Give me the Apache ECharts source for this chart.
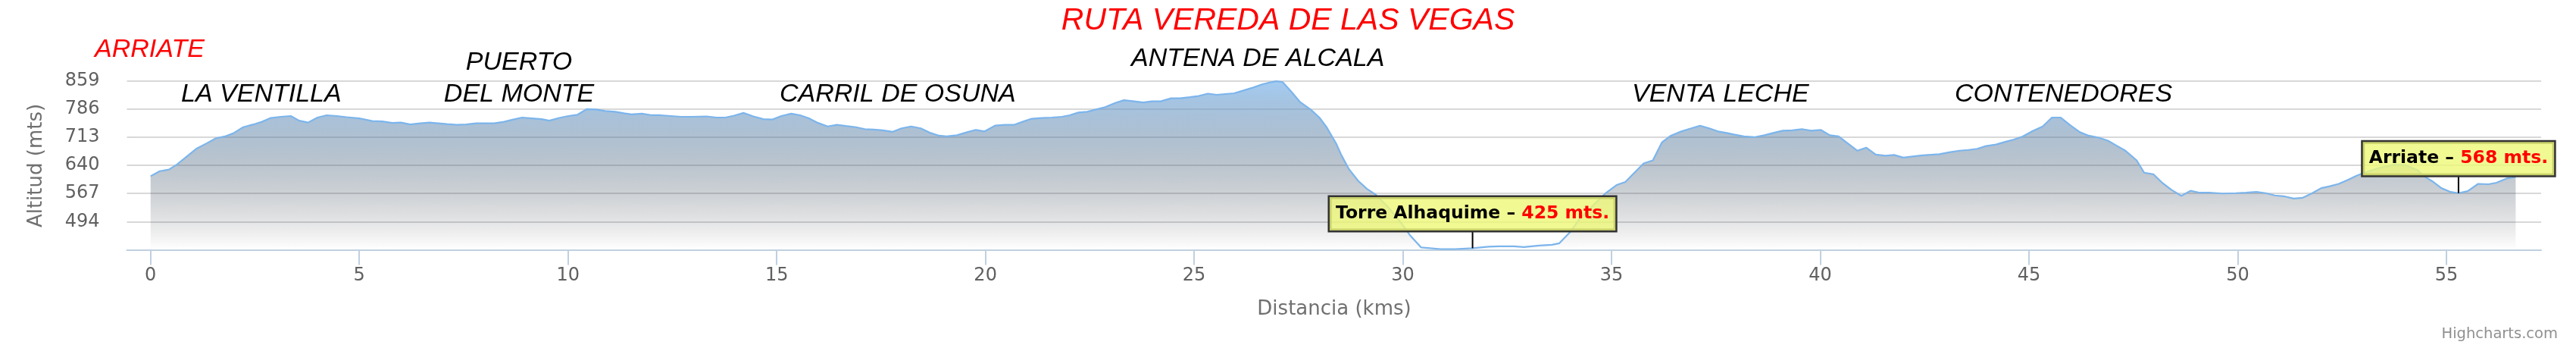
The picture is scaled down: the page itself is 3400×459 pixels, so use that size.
<!DOCTYPE html>
<html><head><meta charset="utf-8">
<script src="https://cdn.jsdelivr.net/npm/echarts@6/dist/echarts.min.js"></script>
<style>html,body{margin:0;padding:0;background:#fff}#c{width:3400px;height:459px}</style>
</head><body><div id="c"></div>
<script>
// ---- data ----
const kms = [0.00,0.22,0.44,0.64,0.88,1.11,1.34,1.56,1.78,1.98,2.22,2.46,2.67,2.88,3.12,3.36,3.56,3.77,4.00,4.22,4.46,4.70,5.00,5.31,5.55,5.79,6.00,6.22,6.46,6.68,6.89,7.10,7.34,7.56,7.80,8.04,8.23,8.47,8.65,8.90,9.14,9.37,9.55,9.79,10.01,10.22,10.45,10.67,10.89,11.13,11.34,11.52,11.77,12.01,12.22,12.47,12.71,12.95,13.32,13.56,13.77,13.98,14.21,14.44,14.68,14.90,15.11,15.35,15.56,15.77,15.99,16.22,16.44,16.66,16.90,17.11,17.32,17.54,17.78,17.99,18.22,18.45,18.66,18.89,19.07,19.32,19.56,19.77,19.98,20.23,20.47,20.68,20.89,21.11,21.35,21.59,21.83,22.02,22.23,22.44,22.65,22.87,23.11,23.32,23.56,23.78,23.99,24.20,24.45,24.66,24.90,25.11,25.33,25.54,25.75,25.96,26.18,26.42,26.63,26.81,26.97,27.12,27.33,27.54,27.79,28.00,28.18,28.41,28.53,28.71,28.93,29.14,29.35,29.62,29.93,30.17,30.44,30.90,31.26,31.67,32.05,32.30,32.66,32.90,33.27,33.57,33.75,34.00,34.24,34.48,34.85,35.12,35.33,35.54,35.77,35.99,36.21,36.42,36.67,36.88,37.12,37.34,37.55,37.76,37.93,38.17,38.42,38.66,38.87,39.10,39.33,39.56,39.78,40.01,40.23,40.44,40.66,40.89,41.10,41.33,41.56,41.77,41.99,42.21,42.45,42.85,43.09,43.33,43.55,43.76,43.97,44.21,44.43,44.64,44.85,45.09,45.33,45.55,45.76,46.00,46.22,46.43,46.67,46.89,47.10,47.31,47.45,47.58,47.76,47.98,48.20,48.42,48.65,48.87,49.09,49.32,49.64,49.95,50.20,50.45,50.67,50.89,51.10,51.34,51.56,51.77,52.00,52.21,52.42,52.63,52.85,53.01,53.38,53.76,54.01,54.32,54.45,54.66,54.88,55.10,55.29,55.51,55.76,56.01,56.20,56.44,56.66];
const alts = [612,625,629,643,664,684,697,710,715,723,739,746,753,763,766,768,756,751,764,770,768,765,762,755,754,750,751,746,749,751,749,747,745,746,749,749,749,753,758,764,762,760,756,763,768,771,786,785,781,779,775,772,774,770,770,768,766,766,767,764,764,769,776,767,760,759,768,774,770,762,750,741,745,742,739,734,733,731,727,736,741,736,725,717,715,718,726,732,728,743,745,745,753,761,763,764,766,770,777,779,785,791,802,809,806,803,806,806,814,814,817,820,826,823,825,827,834,842,850,855,858,856,831,804,785,764,738,695,666,630,600,579,564,535,495,459,427,423,423,425,429,430,430,428,432,434,438,466,502,528,567,589,597,620,645,653,700,717,728,735,743,736,728,724,720,715,713,718,724,730,731,734,730,732,718,715,697,678,686,668,665,667,660,663,666,669,674,678,680,683,690,694,701,707,715,729,741,764,764,743,726,717,712,704,691,678,665,653,621,617,594,576,561,574,569,569,567,568,569,571,568,562,560,554,556,567,581,586,592,602,613,620,633,642,641,627,613,599,581,571,568,573,592,591,595,606,610];
const yTicks = [494, 567, 640, 713, 786, 859];
const xTicks = [0, 5, 10, 15, 20, 25, 30, 35, 40, 45, 50, 55];
const calloutNames = ['Torre Alhaquime', 'Arriate'];
const calloutKms = [31.67, 55.29];
const calloutAlts = [425, 568];
const chartTitle = 'RUTA VEREDA DE LAS VEGAS';
const startName = 'ARRIATE';
const placeNames = ['LA VENTILLA', 'PUERTO', 'DEL MONTE', 'CARRIL DE OSUNA', 'ANTENA DE ALCALA', 'VENTA LECHE', 'CONTENEDORES'];
const xTitle = 'Distancia (kms)';
const yTitle = 'Altitud (mts)';
const credits = 'Highcharts.com';

// ---- chart ----
const HC = '"DejaVu Sans", Verdana, sans-serif';
const AR = '"Liberation Sans", Arial, sans-serif';
function label(text, x, y, color, size, align) {
  return { type: 'text', x: x, y: y, z: 100,
    style: { text: text, fill: color, fontFamily: AR, fontStyle: 'italic', fontSize: size,
      align: align || 'left', verticalAlign: 'middle' } };
}
const chart = echarts.init(document.getElementById('c'), null, { renderer: 'canvas' });
chart.setOption({
  animation: false,
  backgroundColor: '#ffffff',
  grid: { left: 167.5, right: 46, top: 106.7, bottom: 129.5, containLabel: false },
  xAxis: {
    type: 'value', min: -0.567, max: 57.27,
    axisLine: { show: true, lineStyle: { color: '#C0D0E0', width: 2 } },
    axisTick: { show: true, length: 20, lineStyle: { color: '#C0D0E0', width: 2 }, customValues: xTicks },
    axisLabel: { color: '#606060', fontFamily: HC, fontSize: 24, margin: 22, customValues: xTicks },
    splitLine: { show: false }
  },
  yAxis: {
    type: 'value', min: 421, max: 859,
    axisLine: { show: false },
    axisTick: { show: false, customValues: yTicks },
    axisLabel: { color: '#606060', fontFamily: HC, fontSize: 24, margin: 36, padding: [5, 0, 0, 0], customValues: yTicks },
    splitLine: { show: true, lineStyle: { color: '#D8D8D8', width: 2 } }
  },
  series: [{
    type: 'line',
    data: kms.map((k, i) => [k, alts[i]]),
    symbol: 'none',
    smooth: false,
    lineStyle: { color: '#7cb5ec', width: 2.2 },
    areaStyle: {
      origin: 'start',
      color: new echarts.graphic.LinearGradient(0, 0, 0, 1, [
        { offset: 0, color: 'rgba(124,181,236,1)' },
        { offset: 0.25, color: 'rgba(94,136,177,0.75)' },
        { offset: 0.5, color: 'rgba(63,91,118,0.5)' },
        { offset: 0.75, color: 'rgba(33,45,59,0.25)' },
        { offset: 1, color: 'rgba(2,0,0,0)' }
      ])
    },
    markPoint: {
      symbol: 'rect',
      symbolSize: [2, 23.5],
      symbolOffset: [0, -11.75],
      itemStyle: { color: '#000' },
      label: {
        show: true, position: 'top', distance: 0,
        formatter: p => '{n|' + p.name + ' – }{v|' + p.value + ' mts.}',
        backgroundColor: 'rgba(238,248,120,0.8)',
        borderColor: '#333333', borderWidth: 2.5,
        padding: [10, 8, 10, 8],
        rich: {
          n: { fontFamily: HC, fontWeight: 'bold', fontSize: 23.5, color: '#000000' },
          v: { fontFamily: HC, fontWeight: 'bold', fontSize: 23.5, color: '#ff0000' }
        }
      },
      data: calloutNames.map((n, i) => ({ name: n, coord: [calloutKms[i], calloutAlts[i]], value: calloutAlts[i] }))
    }
  }],
  graphic: [
    label(chartTitle, 1700, 28, '#ff0000', 41, 'center'),
    label(startName, 125, 65.3, '#ff0000', 34),
    label(placeNames[0], 239, 124.3, '#000000', 34),
    label(placeNames[1], 685, 83, '#000000', 34, 'center'),
    label(placeNames[2], 685, 124.5, '#000000', 34, 'center'),
    label(placeNames[3], 1029, 124.5, '#000000', 34),
    label(placeNames[4], 1493, 77.5, '#000000', 34),
    label(placeNames[5], 2154, 124.5, '#000000', 34),
    label(placeNames[6], 2580, 124.5, '#000000', 34),
    { type: 'text', x: 1761, y: 408, style: { text: xTitle, fill: '#707070', fontFamily: HC, fontSize: 26, align: 'center', verticalAlign: 'middle' } },
    { type: 'text', x: 48.5, y: 218.5, rotation: Math.PI / 2, style: { text: yTitle, fill: '#707070', fontFamily: HC, fontSize: 26, align: 'center', verticalAlign: 'middle' } },
    { type: 'text', x: 3376, y: 441, style: { text: credits, fill: '#909090', fontFamily: HC, fontSize: 19.5, align: 'right', verticalAlign: 'middle' } }
  ]
});
</script>
</body></html>
